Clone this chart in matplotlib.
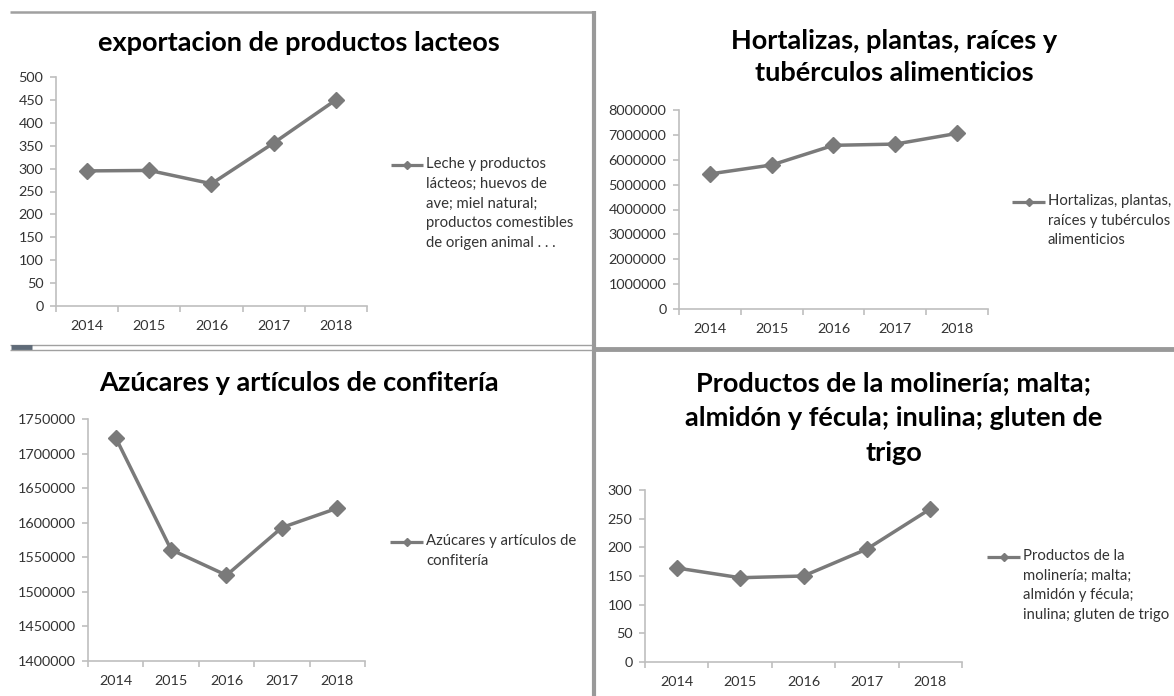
import matplotlib
matplotlib.use("Agg")
import matplotlib.pyplot as plt
from matplotlib.lines import Line2D
import numpy as np

# ------------------------------------------------------------
# datos
# ------------------------------------------------------------
anios = ["2014", "2015", "2016", "2017", "2018"]

lacteos = [295, 296, 267, 356, 450]
hortalizas = [5430000, 5790000, 6580000, 6630000, 7060000]
azucares = [1723000, 1561000, 1524000, 1593000, 1621000]
molineria = [164, 147, 150, 197, 267]

titulos = [
    "exportacion de productos lacteos",
    "Hortalizas, plantas, raíces y\ntubérculos alimenticios",
    "Azúcares y artículos de confitería",
    "Productos de la molinería; malta;\nalmidón y fécula; inulina; gluten de\ntrigo",
]
leyendas = [
    "Leche y productos\nlácteos; huevos de\nave; miel natural;\nproductos comestibles\nde origen animal . . .",
    "Hortalizas, plantas,\nraíces y tubérculos\nalimenticios",
    "Azúcares y artículos de\nconfitería",
    "Productos de la\nmolinería; malta;\nalmidón y fécula;\ninulina; gluten de trigo",
]
ejes_y = [
    np.arange(0, 501, 50),
    np.arange(0, 8000001, 1000000),
    np.arange(1400000, 1750001, 50000),
    np.arange(0, 301, 50),
]

# ------------------------------------------------------------
# estilo
# ------------------------------------------------------------
plt.rcParams["font.family"] = ["Lato", "DejaVu Sans"]

W, H = 1174, 696
GRIS = "#7a7a7a"
EJE = "#bfbfbf"
TEXTO = "#333333"
MARCO = "#a0a0a0"

fig = plt.figure(figsize=(W / 100, H / 100), dpi=100)


def caja(l, t, r, b):
    return [l / W, 1 - b / H, (r - l) / W, (b - t) / H]


def linea(x0, x1, y0, y1, lw, color):
    fig.add_artist(Line2D([x0 / W, x1 / W], [1 - y0 / H, 1 - y1 / H],
                          transform=fig.transFigure, lw=lw, color=color,
                          solid_capstyle="butt"))


# posiciones (pixeles) de cada panel
paneles = [
    dict(ax=(56, 77, 367, 306), tit=(299, 43), ls=1.2, ley=(391, 423, 165)),
    dict(ax=(679, 110, 988, 309), tit=(894, 57), ls=1.43, ley=(1012, 1045, 202)),
    dict(ax=(88, 419, 365, 661), tit=(299, 383), ls=1.2, ley=(390, 423, 542)),
    dict(ax=(645, 490, 962, 662), tit=(894, 418), ls=1.54, ley=(987, 1020, 557)),
]
series = [lacteos, hortalizas, azucares, molineria]

for i, p in enumerate(paneles):
    ax = fig.add_axes(caja(*p["ax"]))
    x = np.arange(len(anios))
    ax.plot(x, series[i], color=GRIS, lw=2.5, marker="D", ms=8,
            markerfacecolor=GRIS, markeredgecolor=GRIS, clip_on=False)

    yt = ejes_y[i]
    ax.set_ylim(yt[0], yt[-1])
    ax.set_yticks(yt)
    ax.set_yticklabels([str(int(v)) for v in yt])
    ax.set_xlim(-0.5, len(anios) - 0.5)
    ax.set_xticks(np.arange(-0.5, len(anios)))
    ax.set_xticklabels([])
    ax.set_xticks(x, minor=True)
    ax.set_xticklabels(anios, minor=True)

    for s in ["top", "right"]:
        ax.spines[s].set_visible(False)
    for s in ["left", "bottom"]:
        ax.spines[s].set_color(EJE)
        ax.spines[s].set_linewidth(1.2)
    ax.tick_params(axis="y", length=4, width=1.2, color=EJE, pad=5,
                   labelsize=10.4, labelcolor=TEXTO)
    ax.tick_params(axis="x", which="major", length=4, width=1.2, color=EJE)
    ax.tick_params(axis="x", which="minor", length=0, pad=10,
                   labelsize=10.4, labelcolor=TEXTO)
    ax.patch.set_alpha(0)

    tx, ty = p["tit"]
    fig.text(tx / W, 1 - ty / H, titulos[i], ha="center", va="center",
             fontsize=19.5, fontweight="bold", color="black",
             linespacing=p["ls"])

    lx0, lx1, ly = p["ley"]
    linea(lx0, lx1, ly, ly, 2.3, GRIS)
    fig.add_artist(Line2D([(lx0 + lx1) / 2 / W], [1 - ly / H], marker="D",
                          ms=4.5, color=GRIS, transform=fig.transFigure))
    fig.text((lx1 + 3) / W, 1 - (ly - 8) / H, leyendas[i], ha="left",
             va="top", fontsize=10.7, color=TEXTO, linespacing=1.52)

# marcos de la captura
linea(10, 592, 12, 12, 1.8, MARCO)
linea(593.5, 593.5, 11, 696, 3, "#999999")
linea(10, 592, 344.5, 344.5, 1.0, MARCO)
linea(10, 592, 350, 350, 1.0, MARCO)
linea(11, 32, 347.2, 347.2, 3.5, "#5f6b78")
linea(595, 1174, 349, 349, 3.5, "#999999")

fig.savefig("out.png", dpi=100)
